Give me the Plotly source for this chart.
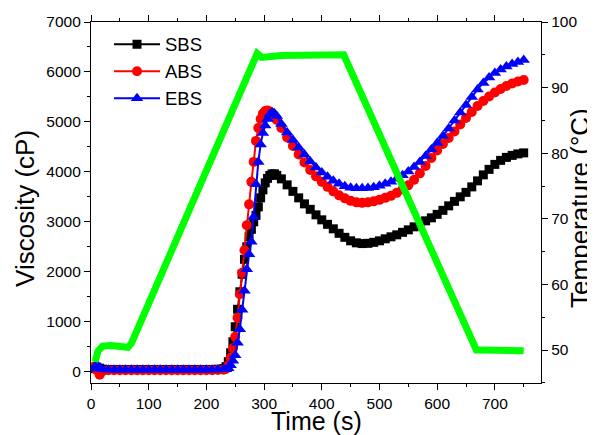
import plotly.graph_objects as go

# ---- data ----
time_s = [5, 10, 15, 20, 30, 40, 50, 60, 70, 80, 90, 100, 110, 120, 130, 140, 150, 160, 170, 180,
          190, 200, 210, 220, 230,
          234, 238, 242, 246, 250, 254, 258, 262, 266, 270, 274, 278, 282, 286, 290, 294, 298, 302,
          306, 310, 314, 318, 322,
          330, 340, 350, 360, 370, 380, 390, 400, 410, 420, 430, 440, 450, 460, 470, 480, 490, 500,
          510, 520, 530, 540, 550, 560, 570, 580, 590, 600, 610, 620, 630, 640, 650, 660, 670, 680,
          690, 700, 710, 720, 730, 740, 750]

sbs = [60, 90, 70, 50, 45, 45, 45, 45, 45, 45, 45, 45, 45, 45, 45, 45, 45, 45, 45, 45,
       45, 45, 45, 50, 60,
       100, 200, 380, 600, 900, 1250, 1600, 1950, 2250, 2500, 2700, 2850, 3000, 3130, 3300, 3480,
       3640, 3780, 3870, 3930, 3960, 3960, 3930,
       3860, 3740, 3610, 3480, 3360, 3250, 3140, 3040, 2950, 2860, 2770, 2690, 2620, 2580, 2565,
       2570, 2590, 2620, 2660, 2700, 2740, 2790, 2840, 2900, 2960, 3020, 3080, 3150, 3230, 3320,
       3410, 3500, 3590, 3700, 3820, 3940, 4050, 4150, 4230, 4290, 4330, 4360, 4380]

abs_ = [100, 30, -60, 10, 30, 30, 30, 30, 30, 30, 30, 30, 30, 30, 30, 30, 30, 30, 30, 30,
        30, 30, 30, 35, 40,
        60, 130, 280, 470, 700, 1080, 1550, 1980, 2430, 2930, 3350, 3800, 4200, 4620, 4880, 5060,
        5170, 5220, 5230, 5210, 5170, 5110, 5040,
        4880, 4690, 4520, 4350, 4190, 4040, 3910, 3800, 3700, 3610, 3530, 3470, 3420, 3390, 3380,
        3390, 3410, 3440, 3480, 3520, 3580, 3650, 3730, 3840, 3970, 4120, 4280, 4430, 4560, 4680,
        4810, 4950, 5080, 5200, 5320, 5420, 5510, 5590, 5660, 5720, 5770, 5810, 5840]

ebs = [60, 150, 80, 50, 40, 40, 40, 40, 40, 40, 40, 40, 40, 40, 40, 40, 40, 40, 40, 40,
       40, 40, 40, 45, 50,
       50, 70, 130, 220, 330, 580, 850, 1240, 1620, 2050, 2350, 2600, 3100, 3750, 4200, 4550,
       4780, 4930, 5060, 5160, 5190, 5170, 5120,
       4960, 4790, 4640, 4490, 4350, 4210, 4090, 3990, 3900, 3820, 3760, 3710, 3680, 3670, 3670,
       3675, 3690, 3720, 3760, 3800, 3860, 3930, 4010, 4100, 4200, 4320, 4450, 4580, 4720, 4870,
       5030, 5190, 5340, 5500, 5650, 5780, 5890, 5980, 6050, 6110, 6160, 6200, 6240]

temp_time = [7, 12, 20, 35, 55, 64, 70, 288, 296, 330, 438, 668, 680, 750]
temp_c = [48.2, 49.8, 50.6, 50.7, 50.5, 50.4, 51.0, 95.2, 94.6, 94.9, 95.0, 50.0, 50.0, 49.9]

x_ticks = [0, 100, 200, 300, 400, 500, 600, 700]

FONT = "Liberation Sans, Arial, sans-serif"

fig = go.Figure()
fig.add_trace(go.Scatter(x=time_s, y=sbs, name="SBS", mode="lines+markers",
                         line=dict(color="#000000", width=2),
                         marker=dict(symbol="square", size=9, color="#000000")))
fig.add_trace(go.Scatter(x=time_s, y=abs_, name="ABS", mode="lines+markers",
                         line=dict(color="#FF0000", width=2),
                         marker=dict(symbol="circle", size=10, color="#FF0000")))
fig.add_trace(go.Scatter(x=time_s, y=ebs, name="EBS", mode="lines+markers",
                         line=dict(color="#0000FF", width=2),
                         marker=dict(symbol="triangle-up", size=11, color="#0000FF")))
fig.add_trace(go.Scatter(x=temp_time, y=temp_c, name="Temperature", mode="lines",
                         line=dict(color="#00FF00", width=7), yaxis="y2", showlegend=False))

axis_common = dict(showline=True, linecolor="black", linewidth=1.3, ticks="outside",
                   ticklen=6, tickwidth=1.3, tickcolor="black", showgrid=False, zeroline=False,
                   automargin=False, tickfont=dict(family=FONT, size=15.5, color="black"))

title_font = dict(family=FONT, size=26, color="black")

# The page body adds an 8 px margin, so the figure is 8 px smaller than the window.
fig.update_layout(
    width=587, height=427,
    margin=dict(l=83, r=54, t=14, b=52),
    paper_bgcolor="white", plot_bgcolor="white",
    font=dict(family=FONT, color="black"),
    xaxis=dict(range=[0, 780], tickvals=x_ticks, mirror="ticks",
               minor=dict(dtick=50, ticklen=3, tickwidth=1.3, tickcolor="black", ticks="outside"),
               **axis_common),
    yaxis=dict(range=[-226, 7000], dtick=1000,
               minor=dict(dtick=500, ticklen=3, tickwidth=1.3, tickcolor="black", ticks="outside"),
               **axis_common),
    yaxis2=dict(range=[44.97, 100], dtick=10, overlaying="y", side="right",
                minor=dict(dtick=5, ticklen=3, tickwidth=1.3, tickcolor="black", ticks="outside"),
                **axis_common),
    legend=dict(x=0.04, y=0.99, xanchor="left", yanchor="top", bgcolor="rgba(0,0,0,0)",
                font=dict(family=FONT, size=18.5, color="black"), itemwidth=46),
    showlegend=True,
    annotations=[
        dict(text="Time (s)", xref="paper", yref="paper", x=0.5, y=-0.104,
             xanchor="center", yanchor="middle", showarrow=False,
             font=dict(family=FONT, size=25, color="black")),
        dict(text="Viscosity (cP)", xref="paper", yref="paper", x=-0.1467, y=0.485,
             xanchor="center", yanchor="middle", textangle=-90, showarrow=False, font=title_font),
        dict(text="Temperature (°C)", xref="paper", yref="paper", x=1.0867, y=0.485,
             xanchor="center", yanchor="middle", textangle=-90, showarrow=False, font=title_font),
    ],
)

fig.write_html("out.html")
